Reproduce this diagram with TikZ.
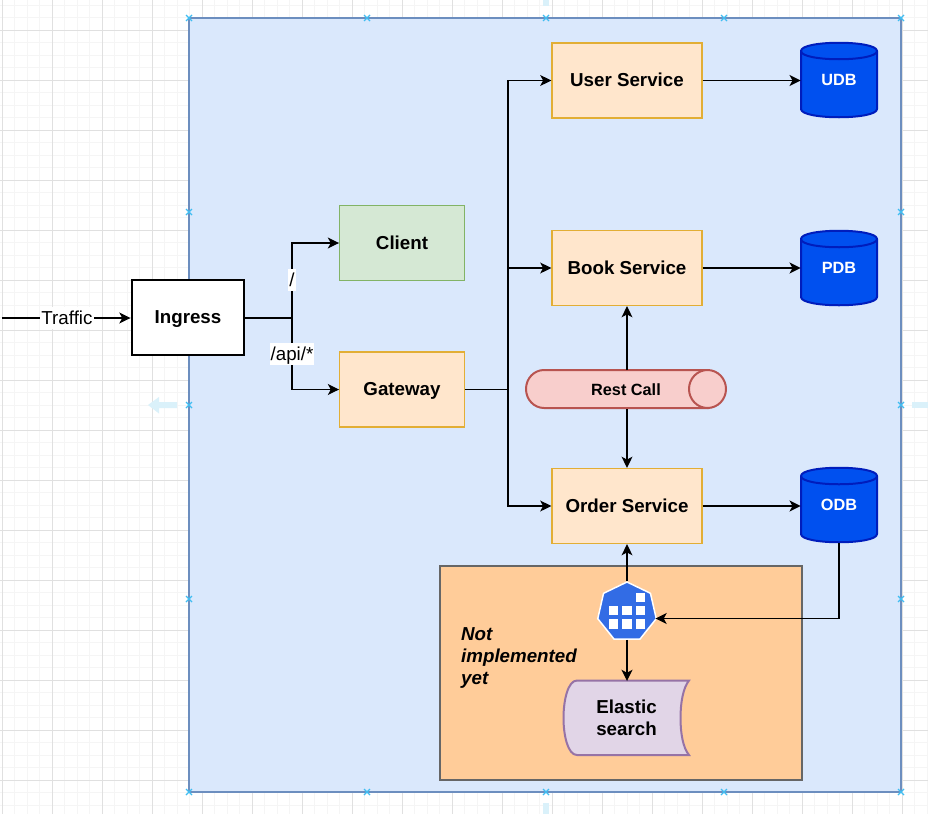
\documentclass[tikz,border=0pt]{standalone}
\usepackage{fontspec}
\setmainfont{Liberation Sans}
\usetikzlibrary{arrows.meta,shapes.geometric}
\definecolor{gridminor}{HTML}{F5F5F5}
\definecolor{gridmajor}{HTML}{E0E0E0}
\definecolor{mainfill}{HTML}{DAE8FC}
\definecolor{mainline}{HTML}{6C8EBF}
\definecolor{svcfill}{HTML}{FFE6CC}
\definecolor{svcline}{HTML}{E2AE35}
\definecolor{clifill}{HTML}{D5E8D4}
\definecolor{cliline}{HTML}{82B366}
\definecolor{orangefill}{HTML}{FFCC99}
\definecolor{orangeline}{HTML}{666666}
\definecolor{dbfill}{HTML}{0050EF}
\definecolor{dbline}{HTML}{001DBC}
\definecolor{restfill}{HTML}{F8CECC}
\definecolor{restline}{HTML}{B85450}
\definecolor{esfill}{HTML}{E1D5E7}
\definecolor{esline}{HTML}{9673A6}
\definecolor{kube}{HTML}{326CE5}
\definecolor{selmark}{HTML}{3FBDF2}
\definecolor{hint}{HTML}{DAF1FA}
\newcommand{\bigtxt}{\fontsize{14.06pt}{16.5pt}\selectfont}
\tikzset{
  conn/.style={line width=0.95pt,black,-{Stealth[length=8.4pt,width=8.2pt,inset=2.2pt]}},
  plainconn/.style={line width=0.95pt,black},
  svc/.style={draw=svcline,fill=svcfill,line width=0.95pt,minimum width=112.5pt,minimum height=56.25pt,inner sep=0pt,text height=11.2pt,text depth=2pt,font=\bfseries\bigtxt},
  clientbox/.style={svc,draw=cliline,fill=clifill,minimum width=93.5pt},
  gatebox/.style={svc,minimum width=93.5pt},
  ingressbox/.style={draw=black,fill=white,line width=2.2pt,minimum width=84pt,minimum height=56.25pt,inner sep=0pt,text height=11.2pt,text depth=2pt,font=\bfseries\bigtxt},
  dbbody/.style={draw=dbline,fill=dbfill,line width=1.5pt},
  dbtext/.style={minimum width=57pt,minimum height=57pt,inner sep=0pt,text=white,font=\bfseries\fontsize{12.2pt}{14pt}\selectfont},
  edgelabel/.style={fill=white,inner sep=0.8pt,text height=12.5pt,text depth=3pt,font=\bigtxt},
  selx/.style={selmark,line width=0.9pt},
  kubesq/.style={fill=white,draw=none}
}
\newcommand{\dbnode}[4]{%
  \begin{scope}[shift={(#2,#3)}]
    \path[dbbody] (-38,-29) .. controls (-38,-40) and (38,-40) .. (38,-29)
      -- (38,29) .. controls (38,40) and (-38,40) .. (-38,29) -- cycle;
    \draw[dbline,line width=1.5pt] (-38,-29) .. controls (-38,-18) and (38,-18) .. (38,-29);
  \end{scope}
  \node[dbtext] (#1) at (#2,#3) {#4};}
\begin{document}
\begin{tikzpicture}[x=0.75pt,y=-0.75pt]
\useasboundingbox (0,0) rectangle (928,814);
\fill[white] (0,0) rectangle (928,814);
% grid
\foreach \k in {0,...,74} {\draw[gridminor,line width=0.75pt] ({2.3+12.5*\k},0) -- ({2.3+12.5*\k},814);}
\foreach \k in {-2,...,63} {\draw[gridminor,line width=0.75pt] (0,{30.3+12.5*\k}) -- (928,{30.3+12.5*\k});}
\foreach \k in {0,...,18} {\draw[gridmajor,line width=0.75pt] ({2.3+50*\k},0) -- ({2.3+50*\k},814);}
\foreach \k in {0,...,15} {\draw[gridmajor,line width=0.75pt] (0,{30.3+50*\k}) -- (928,{30.3+50*\k});}
% drag hints
\fill[hint] (543,0) rectangle (549,6);
\fill[hint] (543,803) rectangle (549,814);
\fill[hint] (177,402) -- (159,402) -- (159,397) -- (148,405) -- (159,413.5) -- (159,408) -- (177,408) -- cycle;
\fill[hint] (912,402) rectangle (928,408);
% container
\draw[draw=mainline,fill=mainfill,line width=2.2pt] (189,18) rectangle (901,792);
\draw[draw=orangeline,fill=orangefill,line width=1.1pt] (440,566) rectangle (802,780);
% selection marks
\foreach \mx/\my in {189/18,367/18,546/18,724/18,901/18,189/212,901/212,189/405,901/405,189/599,901/599,189/792,367/792,546/792,724/792,901/792} {
  \draw[selx] (\mx-3,\my-3) -- (\mx+3,\my+3) (\mx-3,\my+3) -- (\mx+3,\my-3);
}
% nodes
\node[ingressbox] (ingress) at (188,317.5) {Ingress};
\node[clientbox] (client) at (402,243) {Client};
\node[gatebox] (gateway) at (402,389.5) {Gateway};
\node[svc] (user) at (627,80.5) {User Service};
\node[svc] (book) at (627,268) {Book Service};
\node[svc] (order) at (627,506) {Order Service};
\dbnode{udb}{839}{80}{UDB}
\dbnode{pdb}{839}{268}{PDB}
\dbnode{odb}{839}{505}{ODB}
% rest call
\path[draw=restline,fill=restfill,line width=1.5pt] (544,370) -- (708,370) -- (708,408) -- (544,408)
  .. controls (534,408) and (526,399.5) .. (526,389) .. controls (526,378.5) and (534,370) .. (544,370) -- cycle;
\draw[draw=restline,fill=restfill,line width=1.5pt] (707.5,389) ellipse [x radius=18.5,y radius=19];
\node[inner sep=0pt,minimum width=150pt,minimum height=28.5pt,font=\bfseries\fontsize{12.2pt}{14pt}\selectfont] (rest) at (626,389.5) {Rest Call};
% kubernetes icon
\node[regular polygon,regular polygon sides=7,minimum size=45pt,inner sep=0pt,fill=kube,draw=white,line width=1.1pt] (kube) at (627,612) {};
\foreach \sx/\sy in {636/592.7,608.7/606,622.3/606,636/606,608.7/619.3,622.3/619.3,636/619.3} {
  \fill[kubesq] (\sx,\sy) rectangle ++(9.3,9.3);
}
% elastic
\path[draw=esline,fill=esfill,line width=1.5pt] (689,680.5) -- (577,680.5)
  .. controls (568,680.5) and (563.5,700) .. (563.5,718) .. controls (563.5,736) and (568,755) .. (577,755)
  -- (689,755) .. controls (683,748) and (680.5,733) .. (680.5,718) .. controls (680.5,703) and (683,688) .. (689,680.5) -- cycle;
\node[inner sep=0pt,minimum width=80pt,minimum height=50pt,align=center,font=\bfseries\bigtxt] (elastic) at (626.5,717.5) {Elastic\\search};
\node[inner sep=0pt,align=left,font=\bfseries\itshape\bigtxt] (notimpl) at (519,657.5) {Not\\implemented\\yet};
% connectors
\coordinate (trafficstart) at (2,318);
\coordinate (split) at (292,318);
\coordinate (bus) at (508,389.5);
\coordinate (odbdrop) at (839,618.5);
\coordinate (esTop) at (627,681);
\draw[conn] (trafficstart) -- (ingress.west |- trafficstart);
\draw[plainconn] (ingress.east |- split) -- (split);
\draw[conn] (split) |- (client.west);
\draw[conn] (split) |- (gateway.west);
\draw[plainconn] (gateway.east) -- (bus);
\draw[conn] (bus) |- (user.west);
\draw[conn] (bus) |- (book.west);
\draw[conn] (bus) |- (order.west);
\draw[conn] (user.east) -- (udb.west |- user.east);
\draw[conn] (book.east) -- (pdb.west |- book.east);
\draw[conn] (order.east) -- (odb.west |- order.east);
\draw[conn] (rest.north -| book.south) -- (book.south);
\draw[conn] (rest.south -| order.north) -- (order.north);
\draw[conn] (kube.north) -- (order.south);
\draw[conn] (kube.south) -- (esTop);
\draw[conn] (odb.south) -- (odbdrop) -- (kube.east |- odbdrop);
% labels
\node[edgelabel] (ltraffic) at (67,318) {Traffic};
\node[edgelabel] (lroot) at (292,280) {/};
\node[edgelabel] (lapi) at (292,354) {/api/*};
\end{tikzpicture}
\end{document}
